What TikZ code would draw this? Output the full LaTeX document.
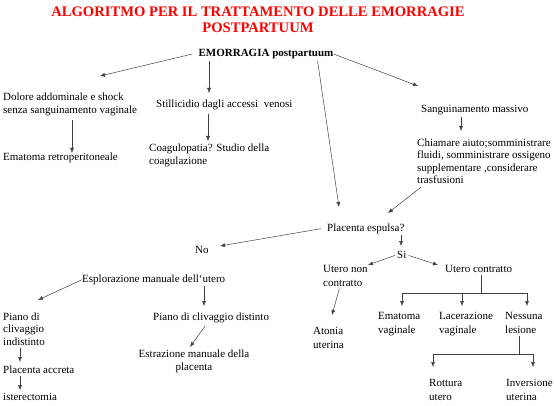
\documentclass[tikz,border=0pt]{standalone}
\usepackage{fontspec}
\setmainfont{Liberation Serif}
\usetikzlibrary{arrows.meta,calc}
\tikzset{
  txt/.style={font=\fontsize{11}{13.5}\selectfont, inner sep=0pt, align=left, anchor=north west},
  tight/.style={font=\fontsize{11}{12.5}\selectfont},
  titolo/.style={font=\fontsize{14.6}{16}\selectfont\bfseries, text=red, inner sep=0pt, align=center},
  arr/.style={draw=black!75, line width=0.5pt, -{Latex[length=5pt,width=4pt]}},
  lin/.style={draw=black!75, line width=0.5pt}
}
\begin{document}
\begin{tikzpicture}[x=1pt,y=-1pt]
\useasboundingbox (0,0) rectangle (554,406);
% titolo
\node[titolo] (tit) at (258,20) {ALGORITMO PER IL TRATTAMENTO DELLE EMORRAGIE\\POSTPARTUUM};
% primo livello
\node[txt, anchor=center, font=\fontsize{11}{13}\selectfont\bfseries] (emo) at (266,54) {EMORRAGIA postpartuum};
\node[txt] (dol) at (3,92.5) {Dolore addominale e shock\\senza sanguinamento vaginale};
\node[txt] (ema) at (3,152.5) {Ematoma retroperitoneale};
\node[txt] (sti) at (156,99.5) {Stillicidio dagli accessi\ \ venosi};
\node[txt] (coa) at (149,143.5) {Coagulopatia? Studio della\\coagulazione};
\node[txt] (san) at (421,105.5) {Sanguinamento massivo};
\node[txt, tight] (chi) at (417,138.5) {Chiamare aiuto;somministrare\\fluidi, somministrare ossigeno\\supplementare ,considerare\\trasfusioni};
% placenta
\node[txt] (pla) at (327,223.5) {Placenta espulsa?};
\node[txt] (no) at (195,246.5) {No};
\node[txt] (si) at (397,251.5) {Si};
\node[txt] (unc) at (323,265.5) {Utero non\\contratto};
\node[txt] (uc) at (445,265.5) {Utero contratto};
\node[txt] (esp) at (82,274.5) {Esplorazione manuale dell`utero};
\node[txt, tight] (pi) at (3,312.5) {Piano di\\clivaggio\\indistinto};
\node[txt] (pd) at (153,312.5) {Piano di clivaggio distinto};
\node[txt] (ato) at (313,327.5) {Atonia\\uterina};
\node[txt] (emv) at (378,312.5) {Ematoma\\vaginale};
\node[txt] (lac) at (439,312.5) {Lacerazione\\vaginale};
\node[txt] (nes) at (505,312.5) {Nessuna\\lesione};
\node[txt, align=center, anchor=north] (estr) at (194,349.5) {Estrazione manuale della\\placenta};
\node[txt] (acc) at (3,365.5) {Placenta accreta};
\node[txt] (ist) at (3,393.5) {isterectomia};
\node[txt] (rot) at (429,379.5) {Rottura\\utero};
\node[txt] (inv) at (506,379.5) {Inversione\\uterina};
% punte delle frecce
\coordinate (t1) at (100,76);
\coordinate (t2) at (209,93);
\coordinate (t3) at (339,207);
\coordinate (t4) at (418,86);
\coordinate (t5) at (72,153);
\coordinate (t6) at (208,141);
\coordinate (t7) at (461,131);
\coordinate (t8) at (388,213);
\coordinate (t9) at (220,246);
\coordinate (t10) at (401,246);
\coordinate (t11) at (368,265);
\coordinate (t12) at (438,265);
\coordinate (t15) at (332,315);
\coordinate (t16) at (38,300);
\coordinate (t17) at (204,306);
\coordinate (t18) at (190,347);
\coordinate (t19) at (20,362);
\coordinate (t20) at (20,390);
\coordinate (j1) at (481,293);
\coordinate (b1) at (402,306);
\coordinate (b2) at (462,306);
\coordinate (b3) at (527,306);
\coordinate (j2) at (519,354);
\coordinate (c1) at (433,367);
\coordinate (c2) at (533,367);
% frecce
\draw[arr] ([xshift=-6pt]emo.west) -- (t1);
\draw[arr] ([yshift=-2pt]emo.south -| t2) -- (t2);
\draw[arr] ([xshift=-16pt,yshift=-2pt]emo.south east) -- (t3);
\draw[arr] (emo.east) -- (t4);
\draw[arr] ([yshift=-4pt]dol.south -| t5) -- (t5);
\draw[arr] ([yshift=-4pt]sti.south -| t6) -- (t6);
\draw[arr] ([yshift=-1pt]san.south -| t7) -- (t7);
\draw[arr] ([xshift=4pt,yshift=-3pt]chi.south west) -- (t8);
\draw[arr] ([xshift=-6pt]pla.west) -- (t9);
\draw[arr] ([yshift=-1pt]pla.south -| t10) -- (t10);
\draw[arr] ([xshift=-2pt]si.west) -- (t11);
\draw[arr] ([xshift=2pt]si.east) -- (t12);
\draw[lin] ([yshift=-2pt]uc.south -| j1) -- (j1);
\draw[lin] (b1 |- j1) -- (b3 |- j1);
\foreach \b in {b1,b2,b3} \draw[arr] (\b |- j1) -- (\b);
\draw[lin] ([yshift=-2pt]nes.south -| j2) -- (j2);
\draw[lin] (c1 |- j2) -- (c2 |- j2);
\foreach \c in {c1,c2} \draw[arr] (\c |- j2) -- (\c);
\draw[arr] ([xshift=-6pt,yshift=-2pt]unc.south) -- (t15);
\draw[arr] (esp.west) -- (t16);
\draw[arr] ([yshift=-1pt]esp.south -| t17) -- (t17);
\draw[arr] ([xshift=-6pt,yshift=-3pt]pd.south) -- (t18);
\draw[arr] ([yshift=-2pt]pi.south -| t19) -- (t19);
\draw[arr] ([yshift=-2pt]acc.south -| t20) -- (t20);
\end{tikzpicture}
\end{document}
